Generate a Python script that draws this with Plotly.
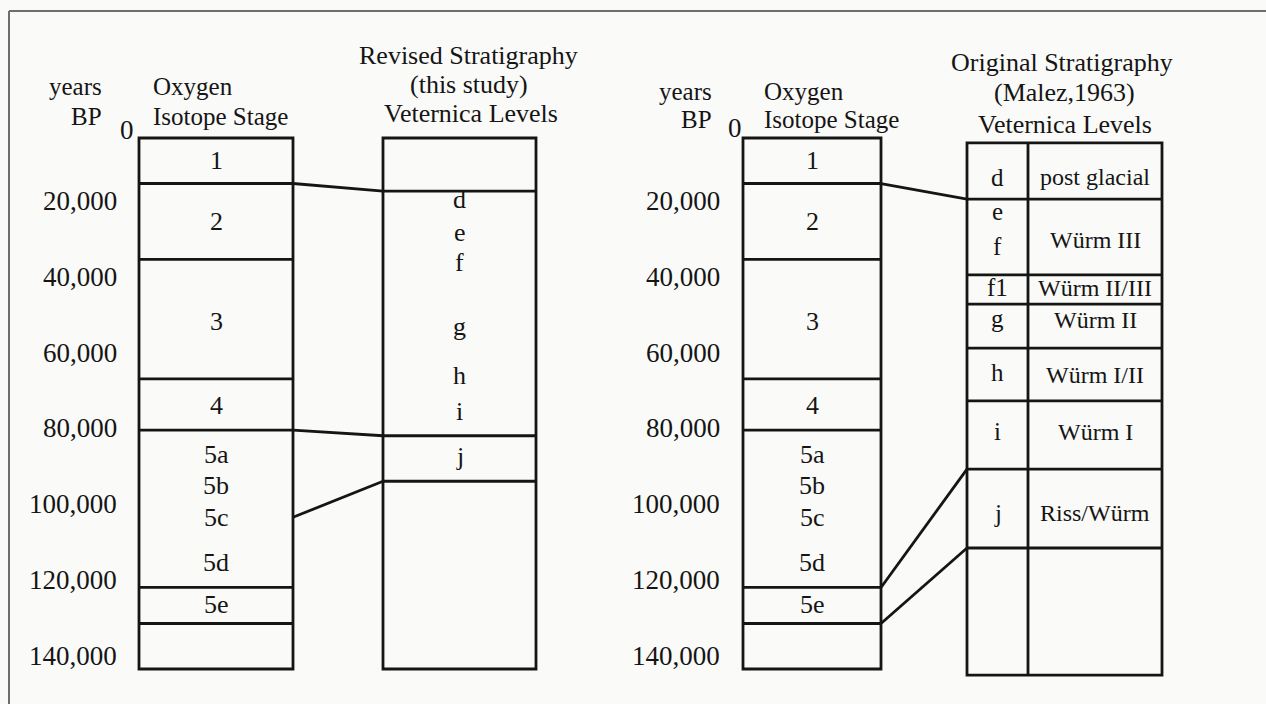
"""
Veternica cave: oxygen isotope stages vs. revised and original stratigraphy.
"""

import plotly.graph_objects as go

W, H = 1266, 704

# oxygen isotope stages, boundaries in years BP
stage_bounds = [0, 12000, 32000, 63500, 77000, 118500, 128000, 140000]
stage_labels = ["1", "2", "3", "4", "5a", "5b", "5c", "5d", "5e"]
stage_label_age = [6000, 22000, 48500, 70500, 83500, 91500, 100000, 112000, 123000]

year_ticks = [20000, 40000, 60000, 80000, 100000, 120000, 140000]

# revised stratigraphy (this study)
revised_bounds = [0, 14000, 78500, 90500, 140000]
revised_levels = ["d", "e", "f", "g", "h", "i", "j"]
revised_level_age = [16300, 24800, 32700, 49800, 62500, 72200, 84100]

# original stratigraphy (Malez, 1963)
malez_bounds = [1300, 16100, 36100, 43800, 55400, 69300, 87300, 108100, 141600]
malez_levels = ["d", "e", "f", "f1", "g", "h", "i", "j"]
malez_level_age = [10300, 19500, 28700, 39500, 47500, 61700, 77500, 98900]
malez_names = ["post glacial", "Würm III", "Würm II/III", "Würm II",
               "Würm I/II", "Würm I", "Riss/Würm"]
malez_name_age = [10300, 26900, 39500, 48000, 62500, 77500, 98900]

# correlation lines: (isotope-stage age, level position)
revised_links = [(12000, 14000), (77000, 78500), (100000, 90500)]
malez_links = [(12000, 16100), (118500, 87300), (128000, 108100)]

# column positions (x in page pixels)
ISO_L = (139, 293)
REV = (383, 536)
ISO_R = (743, 881)
MALEZ = (967, 1028, 1162)

FONT = "Liberation Serif"
INK = "#151515"
BG = "#fafaf8"
LW = 2.8

# vertical scale: 0 yr at y=138 px, 140,000 yr at y=669 px
k = (669 - 138) / 140000
y_range = [140000 + (H - 669) / k, -138 / k]


def py(px):
    return 1 - px / H


fig = go.Figure()


def column(x0, x1, bounds):
    fig.add_shape(type="rect", x0=x0, x1=x1, y0=bounds[0], y1=bounds[-1],
                  xref="x", yref="y", line=dict(color=INK, width=LW))
    for b in bounds[1:-1]:
        fig.add_shape(type="line", x0=x0, x1=x1, y0=b, y1=b,
                      xref="x", yref="y", line=dict(color=INK, width=LW))


def text(x, y, s, size=25, xanchor="center", yref="y", yshift=0):
    fig.add_annotation(x=x, y=y, text=s, showarrow=False, xref="x", yref=yref,
                       xanchor=xanchor, yanchor="middle", yshift=yshift,
                       borderpad=0,
                       font=dict(family=FONT, size=size, color=INK))


# isotope columns
for x0, x1 in (ISO_L, ISO_R):
    column(x0, x1, stage_bounds)
    for lab, age in zip(stage_labels, stage_label_age):
        text((x0 + x1) / 2, age, lab, size=26)

# revised levels
column(REV[0], REV[1], revised_bounds)
for lab, age in zip(revised_levels, revised_level_age):
    text(sum(REV) / 2, age, lab, size=26)

# Malez table
column(MALEZ[0], MALEZ[2], malez_bounds)
fig.add_shape(type="line", x0=MALEZ[1], x1=MALEZ[1], y0=malez_bounds[0],
              y1=malez_bounds[-1], xref="x", yref="y",
              line=dict(color=INK, width=LW))
for lab, age in zip(malez_levels, malez_level_age):
    text((MALEZ[0] + MALEZ[1]) / 2, age, lab, size=25)
for lab, age in zip(malez_names, malez_name_age):
    text((MALEZ[1] + MALEZ[2]) / 2, age, lab, size=24)

# correlation lines
for (a, b) in revised_links:
    fig.add_trace(go.Scatter(x=[ISO_L[1], REV[0]], y=[a, b], mode="lines",
                             line=dict(color=INK, width=LW), hoverinfo="skip"))
for (a, b) in malez_links:
    fig.add_trace(go.Scatter(x=[ISO_R[1], MALEZ[0]], y=[a, b], mode="lines",
                             line=dict(color=INK, width=LW), hoverinfo="skip"))

# year labels
for xr in (118, 721):
    for t in year_ticks:
        text(xr, t, f"{t:,}", size=27, xanchor="right", yshift=13)

# headers
text(127, py(130), "0", size=27, yref="paper")
text(735, py(128), "0", size=27, yref="paper")
for xr, yy in ((103, 87), (713, 91)):
    text(xr, py(yy), "years", size=25, xanchor="right", yref="paper")
    text(xr, py(yy + 29), "BP", size=25, xanchor="right", yref="paper")
text(152, py(87), "Oxygen", size=25, xanchor="left", yref="paper")
text(152, py(116), "Isotope Stage", size=25, xanchor="left", yref="paper")
text(763, py(91), "Oxygen", size=25, xanchor="left", yref="paper")
text(763, py(120), "Isotope Stage", size=25, xanchor="left", yref="paper")

text(468, py(55), "Revised Stratigraphy", size=26, yref="paper")
text(469, py(84), "(this study)", size=26, yref="paper")
text(471, py(113), "Veternica Levels", size=26, yref="paper")

text(1062, py(63), "Original Stratigraphy", size=26, yref="paper")
text(1064, py(93), "(Malez,1963)", size=26, yref="paper")
text(1065, py(124), "Veternica Levels", size=26, yref="paper")

# page frame
fig.add_shape(type="line", x0=9, x1=W, y0=py(11), y1=py(11), xref="x",
              yref="paper", line=dict(color="#6e6e6e", width=2))
fig.add_shape(type="line", x0=9, x1=9, y0=py(11), y1=0, xref="x",
              yref="paper", line=dict(color="#6e6e6e", width=2))

fig.update_layout(
    width=W, height=H, margin=dict(l=0, r=0, t=0, b=0),
    plot_bgcolor=BG, paper_bgcolor=BG, showlegend=False,
    xaxis=dict(range=[0, W], visible=False, fixedrange=True),
    yaxis=dict(range=y_range, visible=False, fixedrange=True),
)

fig.write_html("out.html", config={"displayModeBar": False},
               post_script="document.body.style.margin='0';"
                           "document.body.style.overflow='hidden';")
